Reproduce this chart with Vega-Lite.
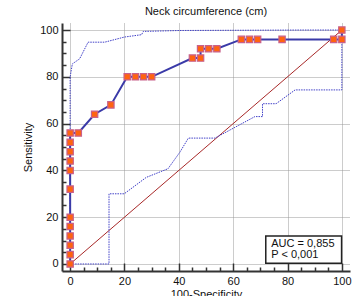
{
  "$schema": "https://vega.github.io/schema/vega-lite/v6.json",
  "width": 288,
  "height": 248,
  "autosize": "none",
  "padding": {"left": 62, "top": 23, "right": 5, "bottom": 25},
  "background": "white",
  "config": {
    "view": {"stroke": null},
    "font": "Liberation Sans",
    "axis": {
      "domainColor": "#333333",
      "domainWidth": 2,
      "tickColor": "#333333",
      "tickWidth": 1.5,
      "labelFont": "Liberation Sans",
      "labelFontSize": 11,
      "labelColor": "#111111",
      "titleFont": "Liberation Sans",
      "titleFontSize": 11,
      "titleFontWeight": "normal",
      "titleColor": "#111111",
      "gridColor": "#999999",
      "gridDash": [1, 1],
      "gridWidth": 1
    }
  },
  "title": {
    "text": "Neck circumference (cm)",
    "fontSize": 11,
    "fontWeight": "normal",
    "font": "Liberation Sans",
    "color": "#111111",
    "offset": 6
  },
  "datasets": {
    "roc": [
      {"i": 1, "x": 0, "y": 0}, {"i": 2, "x": 0, "y": 4}, {"i": 3, "x": 0, "y": 8},
      {"i": 4, "x": 0, "y": 12}, {"i": 5, "x": 0, "y": 16}, {"i": 6, "x": 0, "y": 20},
      {"i": 7, "x": 0, "y": 32}, {"i": 8, "x": 0, "y": 40}, {"i": 9, "x": 0, "y": 44},
      {"i": 10, "x": 0, "y": 48}, {"i": 11, "x": 0, "y": 52}, {"i": 12, "x": 0, "y": 56},
      {"i": 13, "x": 3, "y": 56}, {"i": 14, "x": 9, "y": 64}, {"i": 15, "x": 15, "y": 68},
      {"i": 16, "x": 21, "y": 80}, {"i": 17, "x": 24, "y": 80}, {"i": 18, "x": 27, "y": 80},
      {"i": 19, "x": 30, "y": 80}, {"i": 20, "x": 45, "y": 88}, {"i": 21, "x": 48, "y": 88},
      {"i": 22, "x": 48, "y": 92}, {"i": 23, "x": 51, "y": 92}, {"i": 24, "x": 54, "y": 92},
      {"i": 25, "x": 63, "y": 96}, {"i": 26, "x": 66, "y": 96}, {"i": 27, "x": 69, "y": 96},
      {"i": 28, "x": 78, "y": 96}, {"i": 29, "x": 97, "y": 96}, {"i": 30, "x": 100, "y": 96},
      {"i": 31, "x": 100, "y": 100}
    ],
    "upper": [
      {"i": 1, "x": 0, "y": 0}, {"i": 2, "x": 0, "y": 80}, {"i": 3, "x": 0.8, "y": 85.5},
      {"i": 4, "x": 3.5, "y": 87.7}, {"i": 5, "x": 6.6, "y": 94.8}, {"i": 6, "x": 12.7, "y": 94.8},
      {"i": 7, "x": 20, "y": 97}, {"i": 8, "x": 26.3, "y": 98}, {"i": 9, "x": 26.9, "y": 99.4},
      {"i": 10, "x": 40.4, "y": 99.8}, {"i": 11, "x": 86, "y": 100}, {"i": 12, "x": 100, "y": 100}
    ],
    "lower": [
      {"i": 1, "x": 0, "y": 0}, {"i": 2, "x": 14.3, "y": 0}, {"i": 3, "x": 14.3, "y": 30},
      {"i": 4, "x": 19.9, "y": 30}, {"i": 5, "x": 28, "y": 37}, {"i": 6, "x": 36, "y": 40.7},
      {"i": 7, "x": 40.4, "y": 47.8}, {"i": 8, "x": 43.5, "y": 53.8}, {"i": 9, "x": 53.3, "y": 53.8},
      {"i": 10, "x": 68, "y": 63}, {"i": 11, "x": 70.8, "y": 63}, {"i": 12, "x": 70.8, "y": 68.5},
      {"i": 13, "x": 75.8, "y": 68.5}, {"i": 14, "x": 82.8, "y": 74.4}, {"i": 15, "x": 100, "y": 74.4},
      {"i": 16, "x": 100, "y": 96}
    ],
    "diag": [{"i": 1, "x": 0, "y": 0}, {"i": 2, "x": 100, "y": 100}],
    "box": [{"x": 72, "x2": 99.9, "y": 0.3, "y2": 12}],
    "labels": [
      {"x": 74, "y": 8.5, "t": "AUC = 0,855"},
      {"x": 74, "y": 4, "t": "P < 0,001"}
    ]
  },
  "encoding": {
    "x": {
      "field": "x",
      "type": "quantitative",
      "scale": {"domain": [-3, 103], "nice": false, "zero": false},
      "axis": {
        "title": "100-Specificity",
        "values": [0, 5, 10, 15, 20, 25, 30, 35, 40, 45, 50, 55, 60, 65, 70, 75, 80, 85, 90, 95, 100],
        "labelExpr": "datum.value % 20 === 0 ? datum.label : ''",
        "tickSize": {"condition": {"test": "datum.value % 20 === 0", "value": -8}, "value": -4},
        "gridOpacity": {"condition": {"test": "datum.value % 20 === 0", "value": 1}, "value": 0},
        "labelPadding": 12,
        "titlePadding": 2,
        "grid": true
      }
    },
    "y": {
      "field": "y",
      "type": "quantitative",
      "scale": {"domain": [-3, 103], "nice": false, "zero": false},
      "axis": {
        "title": "Sensitivity",
        "values": [0, 5, 10, 15, 20, 25, 30, 35, 40, 45, 50, 55, 60, 65, 70, 75, 80, 85, 90, 95, 100],
        "labelExpr": "datum.value % 20 === 0 ? datum.label : ''",
        "tickSize": {"condition": {"test": "datum.value % 20 === 0", "value": -8}, "value": -4},
        "gridOpacity": {"condition": {"test": "datum.value % 20 === 0", "value": 1}, "value": 0},
        "labelPadding": 12,
        "titlePadding": 6,
        "grid": true
      }
    }
  },
  "layer": [
    {
      "data": {"name": "diag"},
      "mark": {"type": "line", "color": "#a82828", "strokeWidth": 1},
      "encoding": {"order": {"field": "i"}}
    },
    {
      "data": {"name": "lower"},
      "mark": {"type": "line", "color": "#4040c8", "strokeWidth": 1, "strokeDash": [1.5, 1]},
      "encoding": {"order": {"field": "i"}}
    },
    {
      "data": {"name": "upper"},
      "mark": {"type": "line", "color": "#4040c8", "strokeWidth": 1, "strokeDash": [1.5, 1]},
      "encoding": {"order": {"field": "i"}}
    },
    {
      "data": {"name": "roc"},
      "mark": {"type": "line", "color": "#3a3aa8", "strokeWidth": 2},
      "encoding": {"order": {"field": "i"}}
    },
    {
      "data": {"name": "roc"},
      "mark": {"type": "point", "shape": "square", "filled": true, "size": 40, "fill": "#ff6410", "stroke": "#c8608a", "strokeWidth": 1.2, "opacity": 1}
    },
    {
      "data": {"name": "box"},
      "mark": {"type": "rect", "fill": "white", "stroke": "#222222", "strokeWidth": 1.5},
      "encoding": {"x2": {"field": "x2"}, "y2": {"field": "y2"}}
    },
    {
      "data": {"name": "labels"},
      "mark": {"type": "text", "align": "left", "baseline": "middle", "fontSize": 11, "font": "Liberation Sans", "color": "#111111"},
      "encoding": {"text": {"field": "t"}}
    }
  ]
}
